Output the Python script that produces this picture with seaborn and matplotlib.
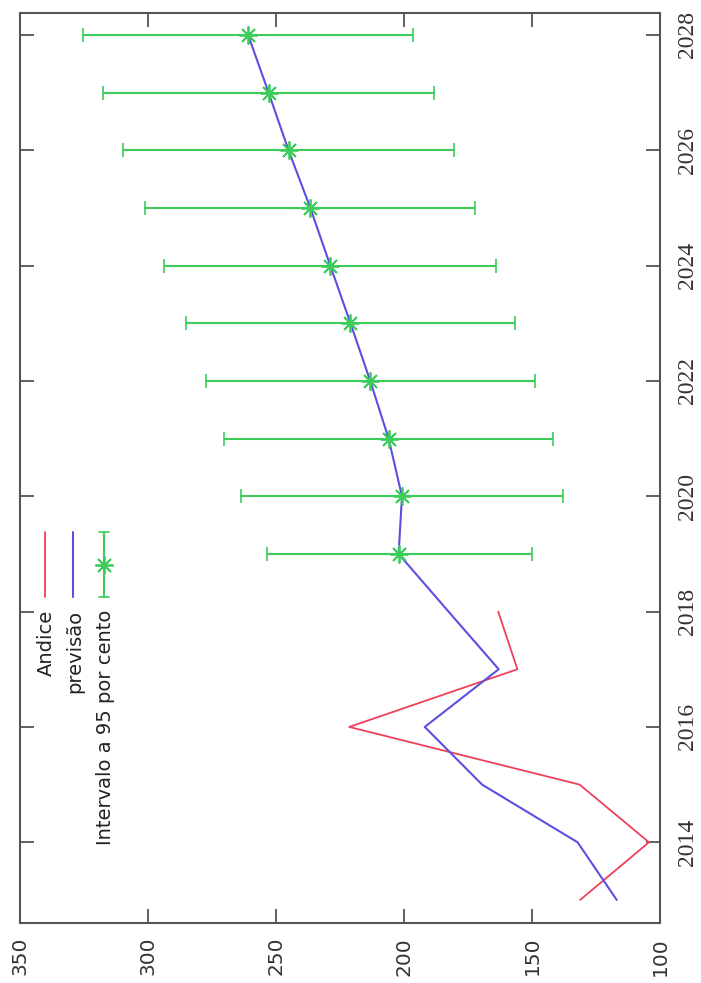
# rotated gnuplot-style forecast chart: índice, previsão and 95% interval
import seaborn as sns
import pandas as pd
import matplotlib.pyplot as plt
import numpy as np

# observed index
anos_indice = [2013, 2014, 2015, 2016, 2017, 2018]
indice = [131.2, 104.3, 131.4, 221.4, 155.7, 163.2]

# forecast line
anos_prev = [2013, 2014, 2015, 2016, 2017, 2018, 2019, 2020, 2021, 2022,
             2023, 2024, 2025, 2026, 2027, 2028]
previsao = [116.9, 132.2, 169.5, 191.9, 163.0, 182.6, 202.1, 200.8, 206.0,
            213.2, 220.9, 228.8, 236.6, 245.1, 252.9, 260.9]

# 95% interval
anos_int = [2019, 2020, 2021, 2022, 2023, 2024, 2025, 2026, 2027, 2028]
centro = [202.1, 200.8, 206.0, 213.2, 220.9, 228.8, 236.6, 245.1, 252.9, 260.9]
inferior = [150.0, 138.0, 141.9, 149.0, 156.7, 164.0, 172.2, 180.6, 188.1, 196.3]
superior = [253.7, 263.6, 270.2, 277.4, 285.1, 293.6, 301.0, 309.6, 317.7, 325.4]

x_ticks = [100, 150, 200, 250, 300, 350]
y_ticks = [2014, 2016, 2018, 2020, 2022, 2024, 2026, 2028]
legend_labels = ['Andice', 'previsão', 'Intervalo a 95 por cento']

red = '#f0405a'
blue = '#5a50e0'
green = '#3ccc5a'
frame = '#555555'

sns.set_style('white')
plt.rcParams['font.family'] = ['DejaVu Sans']

df_ind = pd.DataFrame({'ano': anos_indice, 'valor': indice})
df_prev = pd.DataFrame({'ano': anos_prev, 'valor': previsao})
c = np.array(centro)
lo = np.array(inferior)
hi = np.array(superior)

fig = plt.figure(figsize=(7.01, 9.83), dpi=100)
ax = fig.add_axes([20/701, 60/983, 640/701, 910/983])

sns.lineplot(data=df_ind, x='valor', y='ano', orient='y', color=red,
             linewidth=1.3, ax=ax, legend=False)
sns.lineplot(data=df_prev, x='valor', y='ano', orient='y', color=blue,
             linewidth=1.5, ax=ax, legend=False)
ax.errorbar(c, anos_int, xerr=[c - lo, hi - c], fmt='none', ecolor=green,
            elinewidth=1.5, capsize=5, capthick=1.2, zorder=3)
ax.plot(c, anos_int, ls='none', marker=(8, 2, 0), ms=13, mew=1.3,
        color=green, zorder=4)

ax.set_xlim(350, 100)
ax.set_ylim(2012.6, 2028.38)
ax.set_xticks(x_ticks)
ax.set_xticklabels([str(v) for v in x_ticks], rotation=90, fontsize=14.5,
                   color='#333333')
ax.set_yticks(y_ticks)
ax.set_yticklabels([str(v) for v in y_ticks], rotation=90, va='center',
                   fontsize=17, family='Liberation Serif', color='#333333')
ax.set_xlabel('')
ax.set_ylabel('')
ax.tick_params(direction='in', length=10, width=1.3, color=frame,
               top=True, bottom=True, left=True, right=True,
               labelleft=False, labelright=True, labeltop=False)
ax.tick_params(axis='x', pad=10)
ax.tick_params(axis='y', pad=12)
for s in ax.spines.values():
    s.set_color(frame)
    s.set_linewidth(1.5)

# legend, drawn rotated like the rest of the chart
tr = ax.transAxes
y0, y1 = 0.3582, 0.4297
xs = [0.039, 0.083, 0.131]
ax.plot([xs[0], xs[0]], [y0, y1], color=red, lw=1.3, transform=tr)
ax.plot([xs[1], xs[1]], [y0, y1], color=blue, lw=1.5, transform=tr)
ax.plot([xs[2], xs[2]], [y0, y1], color=green, lw=1.5, transform=tr)
for yy in (y0, y1):
    ax.plot([xs[2] - 0.008, xs[2] + 0.008], [yy, yy], color=green, lw=1.2,
            transform=tr)
ax.plot([xs[2]], [(y0 + y1) / 2], marker=(8, 2, 0), ms=13, mew=1.3,
        color=green, transform=tr)
for xx, lab in zip(xs, legend_labels):
    ax.text(xx + 0.002, 0.344, lab, rotation=90, ha='center', va='top',
            fontsize=14, color='#222222', transform=tr)

fig.savefig('out.png', dpi=100)
